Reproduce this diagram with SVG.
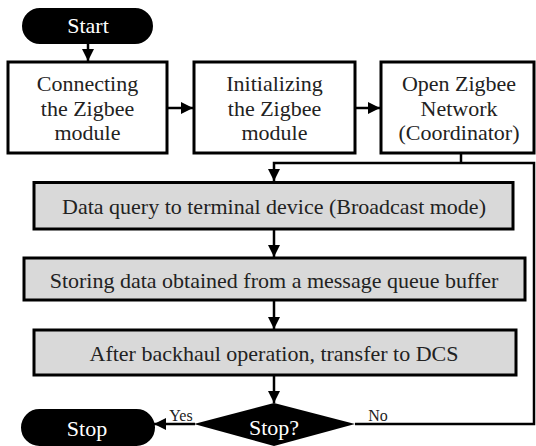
<svg xmlns="http://www.w3.org/2000/svg" width="536" height="446" viewBox="0 0 536 446">
<style>
.box{fill:#ffffff;stroke:#000;stroke-width:3}
.gbox{fill:#d9d9d9;stroke:#000;stroke-width:3}
.term{fill:#000;stroke:#000;stroke-width:2}
.t{font-family:"Liberation Serif","Times New Roman",serif;font-size:22px;fill:#222;text-anchor:middle}
.w{font-family:"Liberation Serif","Times New Roman",serif;font-size:22px;fill:#fff;text-anchor:middle}
.s{font-family:"Liberation Serif","Times New Roman",serif;font-size:16px;fill:#222;text-anchor:middle}
.c{fill:none;stroke:#000;stroke-width:2.5}
</style>
<defs>
<marker id="ah" markerUnits="userSpaceOnUse" markerWidth="12" markerHeight="12" refX="12" refY="6" orient="auto">
<path d="M0,0 L12,6 L0,12 z" fill="#000"/>
</marker>
</defs>
<g id="connectors">
<path class="c" d="M88,43 V61" marker-end="url(#ah)"/>
<path class="c" d="M167,108 H193" marker-end="url(#ah)"/>
<path class="c" d="M355,108 H380" marker-end="url(#ah)"/>
<path class="c" d="M461,153 V163"/>
<path class="c" d="M355,424 H534 V163 H274 V181" marker-end="url(#ah)"/>
<path class="c" d="M274,229 V257" marker-end="url(#ah)"/>
<path class="c" d="M274,300 V329" marker-end="url(#ah)"/>
<path class="c" d="M274,375 V403" marker-end="url(#ah)"/>
<path class="c" d="M195,424 H154" marker-end="url(#ah)"/>
<text class="s" x="181" y="421">Yes</text>
<text class="s" x="378" y="421">No</text>
</g>
<g id="start">
<rect class="term" x="23" y="9" width="129" height="34" rx="17"/>
<text class="w" x="88" y="33">Start</text>
</g>
<g id="connect">
<rect class="box" x="8" y="62" width="159" height="91"/>
<text class="t" x="87.5" y="91">Connecting</text>
<text class="t" x="87.5" y="116">the Zigbee</text>
<text class="t" x="87.5" y="140">module</text>
</g>
<g id="init">
<rect class="box" x="194" y="62" width="161" height="91"/>
<text class="t" x="274.5" y="91">Initializing</text>
<text class="t" x="274.5" y="116">the Zigbee</text>
<text class="t" x="274.5" y="140">module</text>
</g>
<g id="open">
<rect class="box" x="381" y="62" width="153" height="91"/>
<text class="t" x="459" y="91">Open Zigbee</text>
<text class="t" x="459" y="116">Network</text>
<text class="t" x="459" y="140">(Coordinator)</text>
</g>
<g id="query">
<rect class="gbox" x="34" y="182.5" width="479" height="46.5"/>
<text class="t" x="274" y="214">Data query to terminal device (Broadcast mode)</text>
</g>
<g id="store">
<rect class="gbox" x="24" y="258" width="501" height="42"/>
<text class="t" x="274" y="288">Storing data obtained from a message queue buffer</text>
</g>
<g id="backhaul">
<rect class="gbox" x="34" y="330" width="482" height="45"/>
<text class="t" x="274" y="361">After backhaul operation, transfer to DCS</text>
</g>
<g id="decision">
<polygon points="274,403 355,424 274,446 194,424" fill="#000"/>
<text class="w" x="274" y="435">Stop?</text>
</g>
<g id="stop">
<rect class="term" x="22" y="410" width="132" height="35" rx="17.5"/>
<text class="w" x="87" y="436">Stop</text>
</g>
</svg>
